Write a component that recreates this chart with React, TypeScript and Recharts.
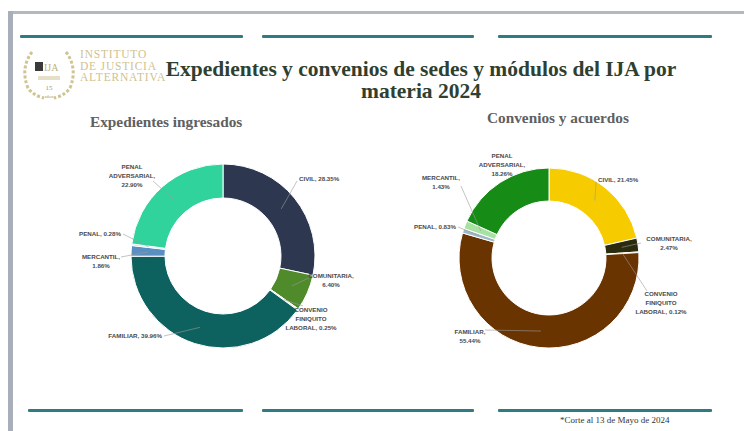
import React from 'react';
import { PieChart, Pie, Cell } from 'recharts';

// Expedientes ingresados (left donut)
const expedientesNames = ['CIVIL', 'COMUNITARIA', 'CONVENIO FINIQUITO LABORAL', 'FAMILIAR', 'MERCANTIL', 'PENAL', 'PENAL ADVERSARIAL'];
const expedientesValues = [28.35, 6.4, 0.25, 39.96, 1.86, 0.28, 22.9];
const expedientesColors = ['#2d3850', '#4f8a2b', '#e6f2d6', '#0d625f', '#5a8fc2', '#a4e6f2', '#31d39d'];

// Convenios y acuerdos (right donut)
const conveniosNames = ['CIVIL', 'COMUNITARIA', 'CONVENIO FINIQUITO LABORAL', 'FAMILIAR', 'PENAL', 'MERCANTIL', 'PENAL ADVERSARIAL'];
const conveniosValues = [21.45, 2.47, 0.12, 55.44, 0.83, 1.43, 18.26];
const conveniosColors = ['#f6cb00', '#2b2b0e', '#f2e2c4', '#6a3401', '#9fb8cc', '#a8e2a2', '#168c16'];

const expedientesData = expedientesNames.map((name, i) => ({ name, value: expedientesValues[i] }));
const conveniosData = conveniosNames.map((name, i) => ({ name, value: conveniosValues[i] }));

// label placement relative to the pie centre: text pos, anchor, words per line, leader end
type LabelLayout = { x: number; y: number; anchor: 'start' | 'middle' | 'end'; split: number[]; lx?: number; ly?: number };

const leftLabels: Record<string, LabelLayout> = {
  'CIVIL': { x: 76, y: -75, anchor: 'start', split: [2], lx: 74, ly: -75 },
  'COMUNITARIA': { x: 108, y: 22, anchor: 'middle', split: [1, 1], lx: 90, ly: 20 },
  'CONVENIO FINIQUITO LABORAL': { x: 88, y: 56, anchor: 'middle', split: [1, 1, 2], lx: 80, ly: 50 },
  'FAMILIAR': { x: -61, y: 82, anchor: 'end', split: [2], lx: -59, ly: 80 },
  'MERCANTIL': { x: -122, y: 3, anchor: 'middle', split: [1, 1], lx: -102, ly: 1 },
  'PENAL': { x: -102, y: -20, anchor: 'end', split: [2], lx: -100, ly: -22 },
  'PENAL ADVERSARIAL': { x: -91, y: -87, anchor: 'middle', split: [1, 1, 1], lx: -70, ly: -75 },
};

const rightLabels: Record<string, LabelLayout> = {
  'CIVIL': { x: 49, y: -76, anchor: 'start', split: [2], lx: 47, ly: -76 },
  'COMUNITARIA': { x: 120, y: -17, anchor: 'middle', split: [1, 1], lx: 92, ly: -15 },
  'CONVENIO FINIQUITO LABORAL': { x: 112, y: 38, anchor: 'middle', split: [1, 1, 2], lx: 98, ly: 33 },
  'FAMILIAR': { x: -79, y: 76, anchor: 'middle', split: [1, 1], lx: -64, ly: 72 },
  'PENAL': { x: -93, y: -29, anchor: 'end', split: [2], lx: -91, ly: -31 },
  'MERCANTIL': { x: -108, y: -78, anchor: 'middle', split: [1, 1], lx: -88, ly: -72 },
  'PENAL ADVERSARIAL': { x: -47, y: -100, anchor: 'middle', split: [1, 1, 1] },
};

const RAD = Math.PI / 180;

const makeLabel = (layout: Record<string, LabelLayout>) => (props: any) => {
  const { cx, cy, midAngle, innerRadius, outerRadius, name, value, index } = props;
  const l = layout[name];
  if (!l) return null;
  const words = `${name}, ${Number(value).toFixed(2)}%`.split(' ');
  const lines: string[] = [];
  let k = 0;
  l.split.forEach((n, i) => {
    const take = i === l.split.length - 1 ? words.length - k : n;
    lines.push(words.slice(k, k + take).join(' '));
    k += take;
  });
  const r = (innerRadius + outerRadius) / 2;
  const sx = cx + r * Math.cos(-midAngle * RAD);
  const sy = cy + r * Math.sin(-midAngle * RAD);
  return (
    <g key={`lab-${index}`}>
      {l.lx !== undefined && (
        <line x1={sx} y1={sy} x2={cx + l.lx} y2={cy + (l.ly as number)} stroke="#9a9a9a" strokeWidth={0.6} />
      )}
      <text
        x={cx + l.x}
        y={cy + l.y}
        textAnchor={l.anchor}
        fontSize={6.2}
        fontFamily="Liberation Sans, Arial, sans-serif"
        fontWeight={600}
        fill="#4a4a4a"
      >
        {lines.map((t, i) => (
          <tspan key={i} x={cx + l.x} dy={i === 0 ? 0 : 9}>{t}</tspan>
        ))}
      </text>
    </g>
  );
};

const tealLine = (left: number, top: number, width: number) => (
  <div style={{ position: 'absolute', left, top, width, height: 3, background: '#2f7c80', borderRadius: 1 }} />
);

export default function App() {
  return (
    <div style={{ position: 'absolute', left: 0, top: 0, width: 744, height: 431, background: '#fff', overflow: 'hidden' }}>
      {/* frame */}
      <div style={{ position: 'absolute', left: 8, top: 11, width: 736, height: 3, background: '#b4b8c0' }} />
      <div style={{ position: 'absolute', left: 8, top: 11, width: 5, height: 420, background: '#a9aebb' }} />

      {tealLine(20, 35, 223)}
      {tealLine(262, 35, 212)}
      {tealLine(498, 35, 214)}
      {tealLine(28, 409, 215)}
      {tealLine(262, 409, 212)}
      {tealLine(498, 409, 214)}

      {/* logo */}
      <svg style={{ position: 'absolute', left: 18, top: 46 }} width={62} height={58}>
        <path d="M14 6 Q2 22 10 42 Q16 50 26 52" fill="none" stroke="#cfc493" strokeWidth={3} strokeDasharray="3 2" />
        <path d="M48 6 Q60 22 52 42 Q46 50 36 52" fill="none" stroke="#cfc493" strokeWidth={3} strokeDasharray="3 2" />
        <rect x={17} y={16} width={8} height={9} fill="#3a3a3a" />
        <text x={26} y={25} fontSize={10} fontFamily="Liberation Serif, serif" fill="#bfb27e">IJA</text>
        <rect x={20} y={30} width={22} height={4} fill="#e6e0c8" />
        <text x={31} y={44} fontSize={7} textAnchor="middle" fontFamily="Liberation Serif, serif" fill="#a99a63">15</text>
        <text x={31} y={52} fontSize={5} textAnchor="middle" fontFamily="Liberation Serif, serif" fill="#a99a63">años</text>
      </svg>
      <div
        style={{
          position: 'absolute', left: 80, top: 49, fontFamily: 'Liberation Serif, serif', fontSize: 11.5,
          lineHeight: '11.5px', color: '#cfc290', letterSpacing: 0.8,
        }}
      >
        INSTITUTO<br />DE JUSTICIA<br />ALTERNATIVA
      </div>

      {/* title */}
      <div
        style={{
          position: 'absolute', left: 140, top: 58, width: 562, textAlign: 'center',
          fontFamily: 'Liberation Serif, "Times New Roman", serif', fontWeight: 700, fontSize: 21.5,
          lineHeight: '22px', color: '#2f3f30',
        }}
      >
        Expedientes y convenios de sedes y módulos del IJA por<br />materia 2024
      </div>

      <div style={{ position: 'absolute', left: 90, top: 113, fontFamily: 'Liberation Serif, serif', fontWeight: 700, fontSize: 15.3, color: '#606060' }}>
        Expedientes ingresados
      </div>
      <div style={{ position: 'absolute', left: 487, top: 109, fontFamily: 'Liberation Serif, serif', fontWeight: 700, fontSize: 15.3, color: '#606060' }}>
        Convenios y acuerdos
      </div>

      <div style={{ position: 'absolute', left: 0, top: 0 }}>
        <PieChart width={744} height={431} margin={{ top: 0, right: 0, bottom: 0, left: 0 }}>
          <Pie
            data={expedientesData}
            dataKey="value"
            nameKey="name"
            cx={223}
            cy={256}
            innerRadius={58}
            outerRadius={92}
            startAngle={90}
            endAngle={-270}
            stroke="#ffffff"
            strokeWidth={1}
            label={makeLabel(leftLabels)}
            labelLine={false}
            isAnimationActive={false}
          >
            {expedientesData.map((d, i) => (
              <Cell key={d.name} fill={expedientesColors[i]} />
            ))}
          </Pie>
          <Pie
            data={conveniosData}
            dataKey="value"
            nameKey="name"
            cx={549}
            cy={258}
            innerRadius={57}
            outerRadius={90}
            startAngle={90}
            endAngle={-270}
            stroke="#ffffff"
            strokeWidth={1}
            label={makeLabel(rightLabels)}
            labelLine={false}
            isAnimationActive={false}
          >
            {conveniosData.map((d, i) => (
              <Cell key={d.name} fill={conveniosColors[i]} />
            ))}
          </Pie>
        </PieChart>
      </div>

      <div style={{ position: 'absolute', left: 560, top: 415, fontFamily: 'Liberation Serif, serif', fontSize: 9, color: '#333' }}>
        *Corte al 13 de Mayo de 2024
      </div>
    </div>
  );
}
